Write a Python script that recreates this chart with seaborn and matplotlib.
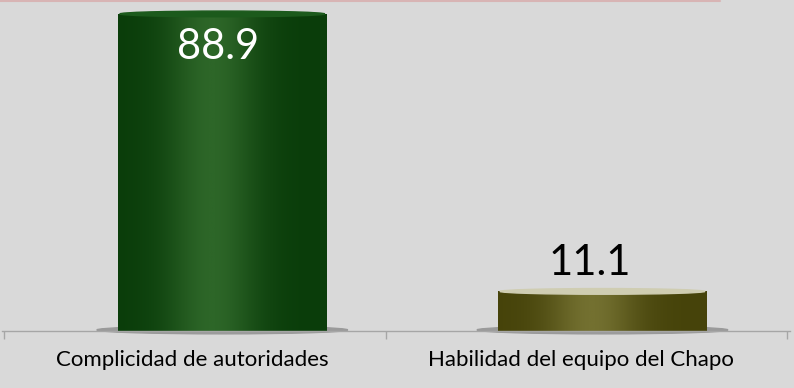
import numpy as np
import pandas as pd
import matplotlib
matplotlib.use("Agg")
import matplotlib.pyplot as plt
import seaborn as sns
from matplotlib.colors import LinearSegmentedColormap
from matplotlib.lines import Line2D
from matplotlib.patches import Ellipse

categories = ["Complicidad de autoridades", "Habilidad del equipo del Chapo"]
values = [88.9, 11.1]
value_labels = ["88.9", "11.1"]

bar_dark = ["#0a3d0a", "#46430a"]
bar_light = ["#2d6628", "#737030"]
top_colors = ["#1c5a1c", "#cfcdb2"]
label_colors = ["white", "black"]

df = pd.DataFrame({"cat": categories, "val": values})

sns.set_theme(style="white")
plt.rcParams["font.family"] = ["Lato", "DejaVu Sans"]
bg = "#d9d9d9"

fig = plt.figure(figsize=(7.94, 3.88), dpi=100, facecolor=bg)
ax = fig.add_axes([2/794, 57/388, 788/794, 331/388])
ax.set_facecolor(bg)

sns.barplot(data=df, x="cat", y="val", ax=ax, width=0.537,
            palette=bar_dark, hue="cat", legend=False, saturation=1)

ax.set_xlim(-0.488, 1.537)
ax.set_ylim(0, 92.8)

shifts = [0.078, 0.055]
label_dx = [-0.01, -0.033]
label_dy = [-9.3, 8.0]
for i, p in enumerate(ax.patches):
    p.set_x(p.get_x() + shifts[i])
    p.set_edgecolor("none")
    x0, w, h = p.get_x(), p.get_width(), p.get_height()
    t = np.linspace(0, 1, 200)
    shade = np.exp(-((t - 0.45) / 0.22) ** 2)
    cmap = LinearSegmentedColormap.from_list("c", [bar_dark[i], bar_light[i]])
    im = ax.imshow(shade[None, :], cmap=cmap, vmin=0, vmax=1, aspect="auto",
                   extent=(x0, x0 + w, 0, h), zorder=p.get_zorder() + 0.1,
                   interpolation="bilinear")
    im.set_clip_path(p)
    # top face
    ax.add_patch(Ellipse((x0 + w / 2, h), w * 0.98, 1.6, color=top_colors[i],
                         zorder=p.get_zorder() + 0.2))
    # base shadow
    ax.add_patch(Ellipse((x0 + w / 2, 0.3), w * 1.2, 2.2, color="#9a9a9a",
                         zorder=p.get_zorder() - 0.5, clip_on=False))
    ax.text(x0 + w / 2 + label_dx[i], h + label_dy[i], value_labels[i],
            ha="center", va="center", fontsize=30, color=label_colors[i], zorder=5)

ax.set_xlabel("")
ax.set_ylabel("")
ax.set_yticks([])
for s in ["top", "left", "right"]:
    ax.spines[s].set_visible(False)
ax.spines["bottom"].set_color("#a6a6a6")
ax.spines["bottom"].set_linewidth(1)
ax.tick_params(axis="x", length=0, pad=14, labelsize=16, labelcolor="black")
ax.set_xticks([-0.483, 0.5, 1.53], minor=True)
ax.tick_params(axis="x", which="minor", length=6, color="#a6a6a6", width=1, bottom=True)
ax.set_xticks([0, 1])
ax.set_xticklabels(categories)

fig.add_artist(Line2D([0, 720/794], [1 - 1/388, 1 - 1/388], color="#d8b4b4", lw=1.5))

fig.savefig("out.png", dpi=100, facecolor=bg)
